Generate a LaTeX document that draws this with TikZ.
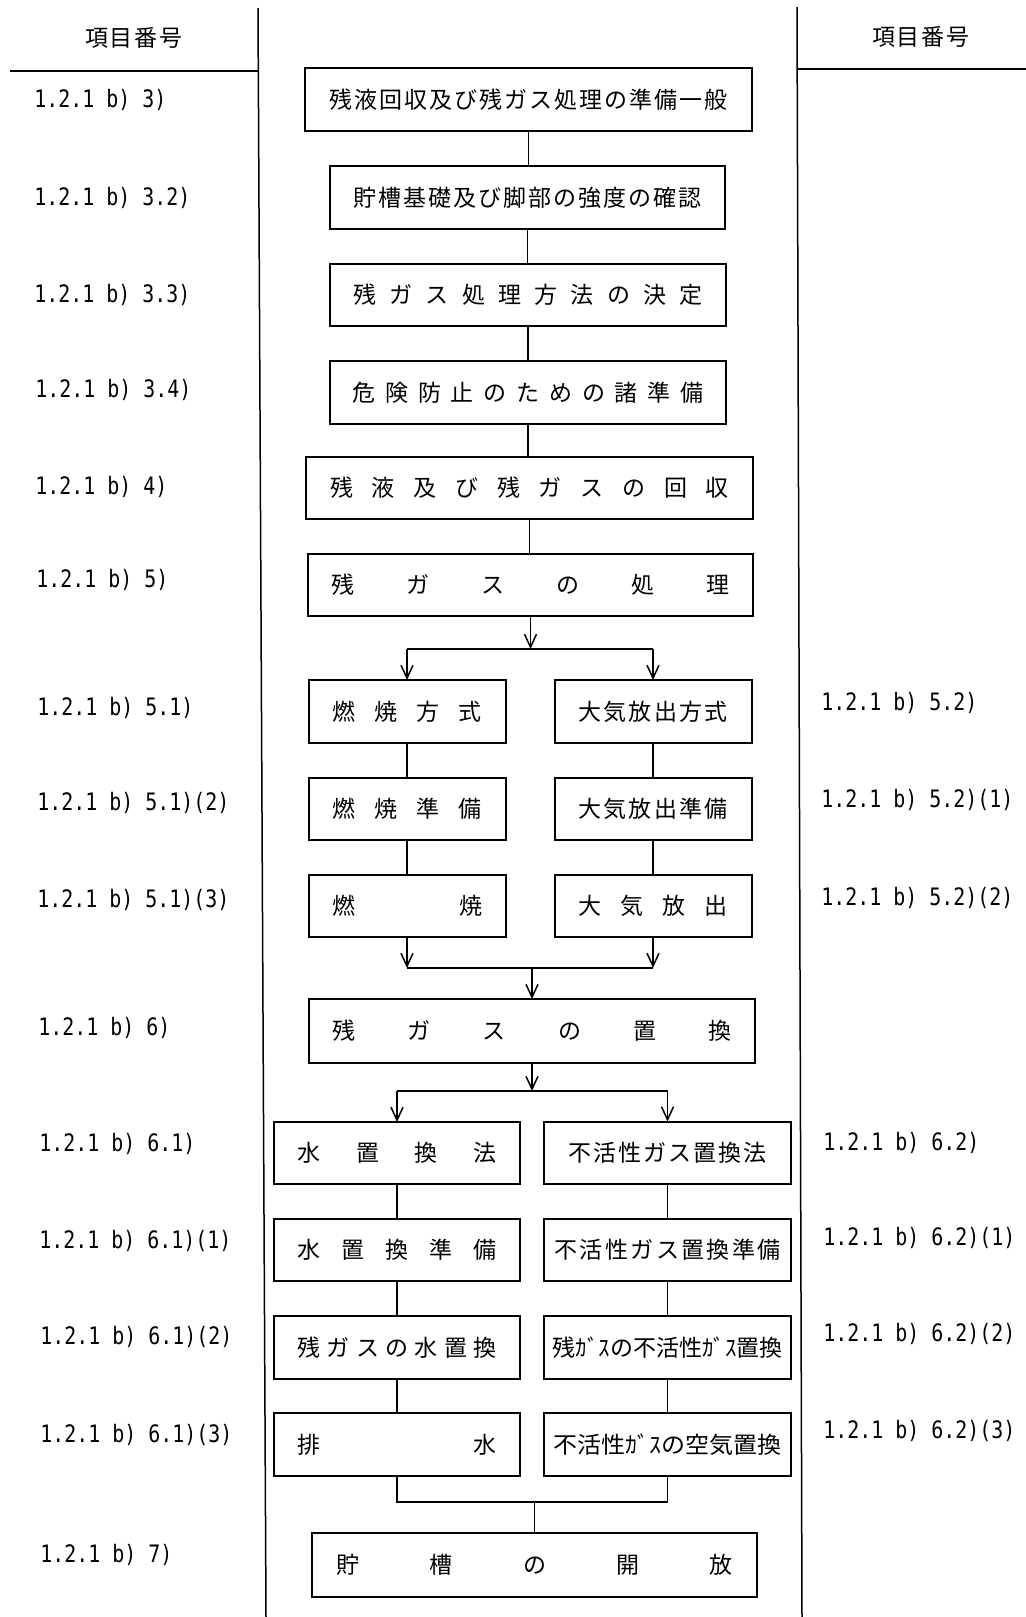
\documentclass[tikz,border=0pt]{standalone}
\usepackage{fontspec}
\usepackage{graphicx}
\usetikzlibrary{arrows.meta}
\newfontfamily\cjk{Noto Sans CJK JP}
\newfontfamily\lblf[FakeStretch=0.83]{DejaVu Sans Mono}
\makeatletter
\def\spr@next#1{\ifx#1\relax\else\hfill#1\expandafter\spr@next\fi}
\def\spr@first#1{#1\spr@next}
\newcommand\spr[2]{\makebox[#1]{\spr@first#2\relax}}
\makeatother
\begin{document}
\begin{tikzpicture}[x=0.5pt,y=-0.5pt,
  bx/.style={draw, line width=1pt, inner sep=0pt, outer sep=0pt, font=\cjk\fontsize{11.5}{13}\selectfont},
  ln/.style={line width=0.75pt},
  arr/.style={ln, -{Straight Barb[length=6.5pt,width=6pt]}},
  lbl/.style={anchor=west, inner sep=0pt, font=\lblf\fontsize{12}{14}\selectfont},
  hdr/.style={inner sep=0pt, font=\cjk\fontsize{11.5}{13}\selectfont}]
\useasboundingbox (0,0) rectangle (1026,1617);
% frame
\coordinate (fa) at (258,8); \coordinate (fb) at (266,1617);
\coordinate (fc) at (797,7); \coordinate (fd) at (802,1617);
\coordinate (ha) at (10,71); \coordinate (hb) at (258,71);
\coordinate (hc) at (798,69); \coordinate (hd) at (1026,69);
\draw[ln] (fa) -- (fb);
\draw[ln] (fc) -- (fd);
\draw[line width=1.2pt] (ha) -- (hb);
\draw[line width=1.2pt] (hc) -- (hd);
\node[hdr] (h1) at (134,38) {\spr{49pt}{項目番号}};
\node[hdr] (h2) at (921,37) {\spr{49pt}{項目番号}};
% main column
\node[bx,minimum width=223.5pt,minimum height=31.5pt] (b1) at (528.5,99.5) {\spr{199pt}{残液回収及び残ガス処理の準備一般}};
\node[bx,minimum width=197.5pt,minimum height=31.5pt] (b2) at (527.5,197.5) {\spr{174.5pt}{貯槽基礎及び脚部の強度の確認}};
\node[bx,minimum width=198pt,minimum height=31pt] (b3) at (528,295) {\spr{174.5pt}{残ガス処理方法の決定}};
\node[bx,minimum width=198pt,minimum height=31.5pt] (b4) at (528,392.5) {\spr{175.5pt}{危険防止のための諸準備}};
\node[bx,minimum width=223.5pt,minimum height=31pt] (b5) at (529.5,488) {\spr{199.5pt}{残液及び残ガスの回収}};
\node[bx,minimum width=222.5pt,minimum height=31pt] (b6) at (530.5,585) {\spr{199.5pt}{残ガスの処理}};
% combustion / atmospheric
\node[bx,minimum width=98.5pt,minimum height=31.5pt] (l1) at (407,711.5) {\spr{75pt}{燃焼方式}};
\node[bx,minimum width=98.5pt,minimum height=31.5pt] (r1) at (653,711.5) {\spr{75pt}{大気放出方式}};
\node[bx,minimum width=98.5pt,minimum height=31pt] (l2) at (407,809) {\spr{75pt}{燃焼準備}};
\node[bx,minimum width=98.5pt,minimum height=31pt] (r2) at (653,809) {\spr{75pt}{大気放出準備}};
\node[bx,minimum width=98.5pt,minimum height=31pt] (l3) at (407,906) {\spr{75pt}{燃焼}};
\node[bx,minimum width=98.5pt,minimum height=31pt] (r3) at (653,906) {\spr{75pt}{大気放出}};
\node[bx,minimum width=223pt,minimum height=32pt] (b7) at (532,1031) {\spr{199.5pt}{残ガスの置換}};
% water / inert
\node[bx,minimum width=123pt,minimum height=31pt] (w1) at (397,1153) {\spr{99.5pt}{水置換法}};
\node[bx,minimum width=123.5pt,minimum height=31pt] (v1) at (667.5,1152.5) {\spr{99pt}{不活性ガス置換法}};
\node[bx,minimum width=123pt,minimum height=31pt] (w2) at (397,1250) {\spr{99.5pt}{水置換準備}};
\node[bx,minimum width=123.5pt,minimum height=31pt] (v2) at (667.5,1250) {\spr{113pt}{不活性ガス置換準備}};
\node[bx,minimum width=123pt,minimum height=31.5pt] (w3) at (397,1347.5) {\spr{99.5pt}{残ガスの水置換}};
\node[bx,minimum width=123.5pt,minimum height=31.5pt] (v3) at (667.5,1347.5) {\resizebox{115pt}{\height}{残ｶﾞｽの不活性ｶﾞｽ置換}};
\node[bx,minimum width=123pt,minimum height=31.5pt] (w4) at (397,1444.5) {\spr{99.5pt}{排水}};
\node[bx,minimum width=123.5pt,minimum height=31.5pt] (v4) at (667.5,1444.5) {\resizebox{114pt}{\height}{不活性ｶﾞｽの空気置換}};
\node[bx,minimum width=222.5pt,minimum height=32pt] (b8) at (534.5,1565) {\spr{198pt}{貯槽の開放}};
% connectors main column
\draw[ln] (b1.south) -- (b1.south |- b2.north);
\draw[ln] (b2.south) -- (b2.south |- b3.north);
\draw[ln] (b3.south) -- (b3.south |- b4.north);
\draw[ln] (b4.south) -- (b4.south |- b5.north);
\draw[ln] (b5.south) -- (b5.south |- b6.north);
% split 1
\coordinate (s1) at (530.5,649);
\draw[arr] (b6.south) -- (s1);
\draw[ln] (l1.north |- s1) -- (r1.north |- s1);
\draw[arr] (l1.north |- s1) -- (l1.north);
\draw[arr] (r1.north |- s1) -- (r1.north);
\draw[ln] (l1.south) -- (l2.north);
\draw[ln] (l2.south) -- (l3.north);
\draw[ln] (r1.south) -- (r2.north);
\draw[ln] (r2.south) -- (r3.north);
% merge 1
\coordinate (m1) at (530,968);
\draw[arr] (l3.south) -- (l3.south |- m1);
\draw[arr] (r3.south) -- (r3.south |- m1);
\draw[ln] (l3.south |- m1) -- (r3.south |- m1);
\draw[arr] (b7.north |- m1) -- (b7.north);
% split 2
\coordinate (s2) at (532,1091);
\draw[arr] (b7.south) -- (s2);
\draw[ln] (w1.north |- s2) -- (v1.north |- s2);
\draw[arr] (w1.north |- s2) -- (w1.north);
\draw[arr] (v1.north |- s2) -- (v1.north);
\draw[ln] (w1.south) -- (w2.north);
\draw[ln] (w2.south) -- (w3.north);
\draw[ln] (w3.south) -- (w4.north);
\draw[ln] (v1.south) -- (v2.north);
\draw[ln] (v2.south) -- (v3.north);
\draw[ln] (v3.south) -- (v4.north);
% merge 2
\coordinate (m2) at (533,1502);
\draw[ln] (w4.south) -- (w4.south |- m2) -- (v4.south |- m2) -- (v4.south);
\draw[ln] (b8.north |- m2) -- (b8.north);
% left labels
\node[lbl] (la1) at (34,100) {1.2.1 b) 3)};
\node[lbl] (la2) at (34,198) {1.2.1 b) 3.2)};
\node[lbl] (la3) at (34,295) {1.2.1 b) 3.3)};
\node[lbl] (la4) at (35,390) {1.2.1 b) 3.4)};
\node[lbl] (la5) at (35,487) {1.2.1 b) 4)};
\node[lbl] (la6) at (36,580) {1.2.1 b) 5)};
\node[lbl] (la7) at (37,708) {1.2.1 b) 5.1)};
\node[lbl] (la8) at (37,803) {1.2.1 b) 5.1)(2)};
\node[lbl] (la9) at (37,900) {1.2.1 b) 5.1)(3)};
\node[lbl] (la10) at (38,1028) {1.2.1 b) 6)};
\node[lbl] (la11) at (39,1144) {1.2.1 b) 6.1)};
\node[lbl] (la12) at (39,1241) {1.2.1 b) 6.1)(1)};
\node[lbl] (la13) at (40,1337) {1.2.1 b) 6.1)(2)};
\node[lbl] (la14) at (40,1435) {1.2.1 b) 6.1)(3)};
\node[lbl] (la15) at (40,1555) {1.2.1 b) 7)};
% right labels
\node[lbl] (ra1) at (821,703) {1.2.1 b) 5.2)};
\node[lbl] (ra2) at (821,800) {1.2.1 b) 5.2)(1)};
\node[lbl] (ra3) at (821,898) {1.2.1 b) 5.2)(2)};
\node[lbl] (ra4) at (823,1143) {1.2.1 b) 6.2)};
\node[lbl] (ra5) at (823,1238) {1.2.1 b) 6.2)(1)};
\node[lbl] (ra6) at (823,1334) {1.2.1 b) 6.2)(2)};
\node[lbl] (ra7) at (823,1431) {1.2.1 b) 6.2)(3)};
\end{tikzpicture}
\end{document}
